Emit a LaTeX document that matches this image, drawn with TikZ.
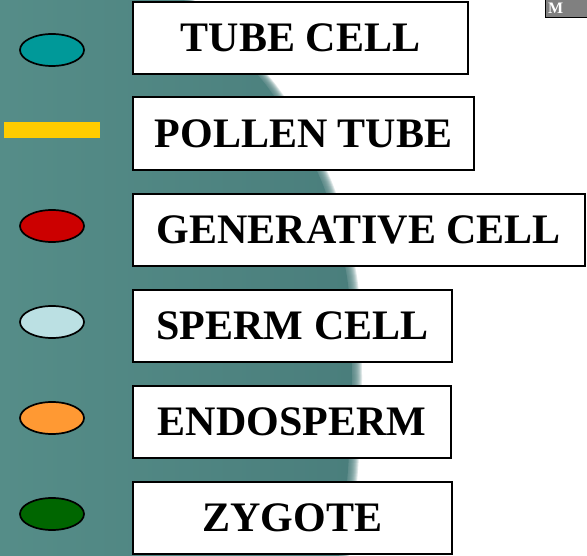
\documentclass[tikz,border=0pt]{standalone}
\usepackage{fontspec}
\setmainfont{Liberation Serif}
\usetikzlibrary{shapes.geometric}
\definecolor{tealA}{RGB}{86,142,137}
\definecolor{tealB}{RGB}{74,126,124}
\definecolor{mkTeal}{RGB}{0,153,153}
\definecolor{mkYellow}{RGB}{255,204,0}
\definecolor{mkRed}{RGB}{204,0,0}
\definecolor{mkLight}{RGB}{187,224,227}
\definecolor{mkOrange}{RGB}{255,153,51}
\definecolor{mkGreen}{RGB}{0,102,0}
\definecolor{tabGray}{RGB}{128,128,128}
\tikzset{
  labelbox/.style={draw=black, line width=1.8pt, fill=white, rectangle, inner sep=0pt,
    minimum height=72pt, font=\bfseries\fontsize{42}{42}\selectfont},
  marker/.style={ellipse, draw=black, line width=1.7pt, minimum width=64pt, minimum height=32pt, inner sep=0pt},
}
\begin{document}
\begin{tikzpicture}[x=1pt,y=-1pt]
\useasboundingbox (0,0) rectangle (587,556);
\fill[white] (0,0) rectangle (587,556);
\begin{scope}
\clip (0,0) rectangle (587,556);
% photo background with soft edge
\foreach \k in {0,1,...,9}{
  \begin{scope}[xshift=\k*1pt-5pt]
    \fill[tealB, opacity=0.18] (-20,-10) -- plot[smooth] coordinates {(186,-10) (190,0) (272,85) (327,180) (353,277) (358,375) (354,470) (345,556) (343,570)} -- (-20,570) -- cycle;
  \end{scope}
}
\begin{scope}[xshift=-6pt]
  \shade[left color=tealA, right color=tealB] (-20,-10) -- plot[smooth] coordinates {(186,-10) (190,0) (272,85) (327,180) (353,277) (358,375) (354,470) (345,556) (343,570)} -- (-20,570) -- cycle;
\end{scope}
% top-right tab
\fill[tabGray] (545,0) rectangle (587,17);
\node[anchor=base west, inner sep=0pt, text=white, font=\bfseries\fontsize{16}{16}\selectfont] (tabtext) at (548,14) {M};
\draw[black, line width=1.2pt] (545.6,-1) -- (545.6,17.4) -- (590,17.4);
\end{scope}
% label boxes
\node[labelbox, minimum width=335pt] (tube) at (300.5,38) {TUBE CELL};
\node[labelbox, minimum width=341pt, minimum height=73pt] (pollen) at (303.5,133.5) {POLLEN TUBE};
\node[labelbox, minimum width=452pt] (gen) at (359,230) {GENERATIVE CELL};
\node[labelbox, minimum width=319pt] (sperm) at (292.5,326) {SPERM CELL};
\node[labelbox, minimum width=318pt] (endo) at (292,422) {ENDOSPERM};
\node[labelbox, minimum width=319pt] (zyg) at (292.5,518) {ZYGOTE};
% markers
\node[marker, fill=mkTeal] (mtube) at (52,50) {};
\node[rectangle, fill=mkYellow, minimum width=96pt, minimum height=16pt, inner sep=0pt] (mpollen) at (52,130) {};
\node[marker, fill=mkRed] (mgen) at (52,226) {};
\node[marker, fill=mkLight] (msperm) at (52,322) {};
\node[marker, fill=mkOrange] (mendo) at (52,418) {};
\node[marker, fill=mkGreen] (mzyg) at (52,514) {};
\end{tikzpicture}
\end{document}
